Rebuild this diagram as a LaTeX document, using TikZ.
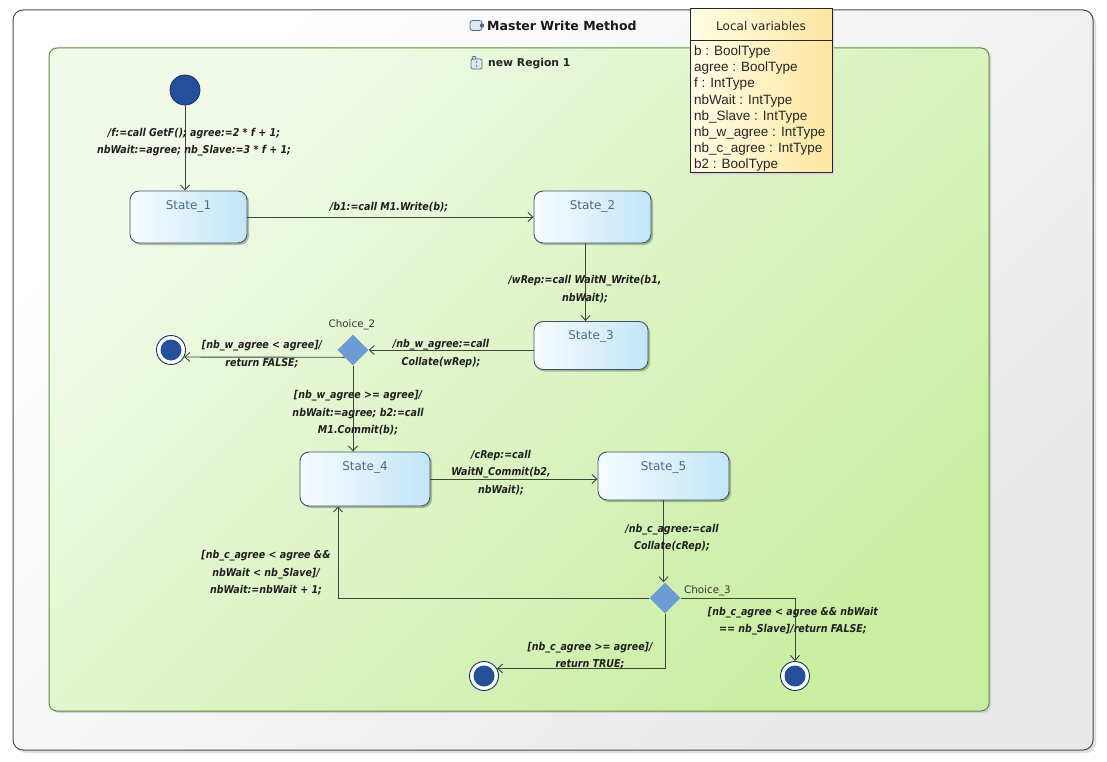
\documentclass[tikz,border=0pt]{standalone}
\usepackage{fontspec}
\setmainfont{DejaVu Sans}
\newfontfamily\lblfont{DejaVu Sans}[FakeStretch=0.88]
\newfontfamily\varfont{Liberation Sans}
\usetikzlibrary{shapes.geometric,arrows.meta,shadows,calc}
\definecolor{lineC}{HTML}{3C473A}
\definecolor{stBorder}{HTML}{3F5368}
\definecolor{stL}{HTML}{F7FCFE}
\definecolor{stR}{HTML}{C2E5F6}
\definecolor{stText}{HTML}{4A6A8C}
\definecolor{labC}{HTML}{1F1F1F}
\definecolor{blueF}{HTML}{24509B}
\definecolor{blueD}{HTML}{16336B}
\definecolor{diaF}{HTML}{6F9BD5}
\definecolor{greenL}{HTML}{F1FAE9}
\definecolor{greenR}{HTML}{C9EEA2}
\definecolor{greenB}{HTML}{5B8B41}
\definecolor{frameB}{HTML}{4D4D4D}
\definecolor{yelL}{HTML}{FFFDE6}
\definecolor{yelR}{HTML}{FDE6A0}
\definecolor{iconC}{HTML}{4A6A8A}
\definecolor{iconF}{HTML}{DDE8F4}
\begin{document}
\begin{tikzpicture}[x=1pt,y=-1pt,
  arr/.style={draw=lineC, line width=0.9pt, -{Straight Barb[length=5pt,width=9pt]}},
  stbox/.style={rectangle, rounded corners=9pt, draw=stBorder, line width=0.9pt,
     left color=stL, right color=stR, inner sep=0pt,
     drop shadow={shadow xshift=2pt, shadow yshift=-2pt, fill=black, opacity=0.25}},
  stlab/.style={font=\fontsize{12}{14}\selectfont, text=stText, inner sep=0pt},
  chlab/.style={font=\fontsize{10.3}{12}\selectfont, text=black!80, inner sep=0pt},
  elab/.style={font=\lblfont\bfseries\itshape\fontsize{10.8}{17.5}\selectfont, align=center, text=labC, inner sep=0pt},
  initst/.style={circle, minimum size=30pt, inner sep=0pt, fill=blueF, draw=blueD, line width=0.8pt},
  finst/.style={circle, minimum size=29pt, inner sep=0pt, fill=white, draw=blueD, line width=0.9pt,
     path picture={\fill[blueF] (path picture bounding box.center) circle (10.5pt);}},
  choice/.style={diamond, minimum width=31pt, minimum height=31pt, inner sep=0pt, aspect=1, fill=diaF, draw=none},
  varlab/.style={font=\varfont\fontsize{13.5}{16}\selectfont, text=black!85, anchor=base west, inner sep=0pt}
]
\useasboundingbox (0,0) rectangle (1107,762);
\fill[white] (0,0) rectangle (1107,762);
% outer frame
\fill[black!12, rounded corners=10pt] (16,13) rectangle (1096,753);
\path[draw=frameB, line width=1pt, rounded corners=10pt, top color=white, bottom color=black!9, shading angle=45] (13,10) rectangle (1093,750);
% title icon and title
\draw[iconC, fill=iconF, line width=0.8pt, rounded corners=2.5pt] (470,20.5) rectangle (482,30.5);
\fill[iconC] (482,25.5) circle (2.2pt);
\node[anchor=west, font=\bfseries\fontsize{12.5}{15}\selectfont, inner sep=0pt, text=black!90] (title) at (487,26) {Master Write Method};
% green region
\fill[black!18, rounded corners=8pt] (51,50) rectangle (991,713);
\path[draw=greenB, line width=1pt, rounded corners=8pt, top color=greenL, bottom color=greenR, shading angle=45] (49,48) rectangle (989,711);
% region icon and title
\draw[iconC, fill=iconF, line width=0.7pt, rounded corners=2pt] (471,59) rectangle (482,69);
\draw[iconC, fill=iconF, line width=0.7pt, rounded corners=1pt] (472,56.5) rectangle (476,59);
\fill[iconC] (476.5,62) circle (0.9pt) (476.5,66) circle (0.9pt);
\node[anchor=west, font=\bfseries\fontsize{10.8}{13}\selectfont, inner sep=0pt, text=black!85] (regtitle) at (488,63.5) {new Region 1};
% local variables
\fill[black!15] (692,11) rectangle (834,175);
\path[draw=black!85, line width=1pt, left color=yelL, right color=yelR] (690,9) rectangle (832,173);
\draw[black!85, line width=1pt] (690,41) -- (832,41);
\node[font=\fontsize{12}{14}\selectfont, inner sep=0pt, text=black!85] (lvt) at (761,26) {Local variables};
\node[varlab] (v1) at (694,55.5) {b : BoolType};
\node[varlab] (v2) at (694,71.7) {agree : BoolType};
\node[varlab] (v3) at (694,87.9) {f : IntType};
\node[varlab] (v4) at (694,104.1) {nbWait : IntType};
\node[varlab] (v5) at (694,120.3) {nb\_Slave : IntType};
\node[varlab] (v6) at (694,136.5) {nb\_w\_agree : IntType};
\node[varlab] (v7) at (694,152.7) {nb\_c\_agree : IntType};
\node[varlab] (v8) at (694,168.9) {b2 : BoolType};
% states
\node[initst] (init) at (185,90) {};
\node[stbox, minimum width=117pt, minimum height=52pt] (s1) at (188.5,217) {};
\node[stbox, minimum width=117pt, minimum height=52pt] (s2) at (592.5,217) {};
\node[stbox, minimum width=114pt, minimum height=48pt] (s3) at (591,345.5) {};
\node[stbox, minimum width=130pt, minimum height=54pt] (s4) at (365,479) {};
\node[stbox, minimum width=131pt, minimum height=48pt] (s5) at (663.5,476) {};
\node[stlab] (s1t) at ([yshift=-16pt]s1.north) {State\_1};
\node[stlab] (s2t) at ([yshift=-16pt]s2.north) {State\_2};
\node[stlab] (s3t) at ([yshift=-15pt]s3.north) {State\_3};
\node[stlab] (s4t) at ([yshift=-16pt]s4.north) {State\_4};
\node[stlab] (s5t) at ([yshift=-16pt]s5.north) {State\_5};
\node[choice] (ch2) at (353,350) {};
\node[choice] (ch3) at (665,598) {};
\node[chlab] (ch2t) at (352,325) {Choice\_2};
\node[chlab, anchor=west] (ch3t) at (684,591) {Choice\_3};
\node[finst] (fin1) at (171,350) {};
\node[finst] (fin2) at (484,676) {};
\node[finst] (fin3) at (795,676) {};
% connectors
\draw[arr] (init) -- (init |- s1.north);
\draw[arr] (s1) -- (s2);
\draw[arr] ([xshift=-7pt]s2.south) -- ([xshift=-7pt]s2.south |- s3.north);
\draw[arr] (s3.west |- ch2) -- (ch2);
\draw[arr] (ch2.-139) -- (fin1.-28);
\draw[arr] (ch2) -- (ch2 |- s4.north);
\draw[arr] (s4.east) -- (s4.east -| s5.west);
\draw[arr] (s5.south) -- (s5.south |- ch3.north);
\draw[arr] (ch3.west) -| ([xshift=-27pt]s4.south);
\draw[arr] (ch3.east) -| (fin3.north);
\draw[arr] (ch3.south) |- (fin2.30);
% connector labels
\node[elab] (l1) at (194,142) {/f:=call GetF(); agree:=2 * f + 1;\\nbWait:=agree; nb\_Slave:=3 * f + 1;};
\node[elab] (l2) at (389,207) {/b1:=call M1.Write(b);};
\node[elab] (l3) at (585,289) {/wRep:=call WaitN\_Write(b1,\\nbWait);};
\node[elab] (l4) at (441,353.5) {/nb\_w\_agree:=call\\Collate(wRep);};
\node[elab] (l5) at (262,354) {[nb\_w\_agree < agree]/\\return FALSE;};
\node[elab] (l6) at (358,413) {[nb\_w\_agree >= agree]/\\nbWait:=agree; b2:=call\\M1.Commit(b);};
\node[elab] (l7) at (501,472.5) {/cRep:=call\\WaitN\_Commit(b2,\\nbWait);};
\node[elab] (l8) at (672,538) {/nb\_c\_agree:=call\\Collate(cRep);};
\node[elab] (l9) at (266,573) {[nb\_c\_agree < agree \&\&\\nbWait < nb\_Slave]/\\nbWait:=nbWait + 1;};
\node[elab] (l10) at (793,621) {[nb\_c\_agree < agree \&\& nbWait\\== nb\_Slave]/return FALSE;};
\node[elab] (l11) at (590,655.5) {[nb\_c\_agree >= agree]/\\return TRUE;};
\end{tikzpicture}
\end{document}
